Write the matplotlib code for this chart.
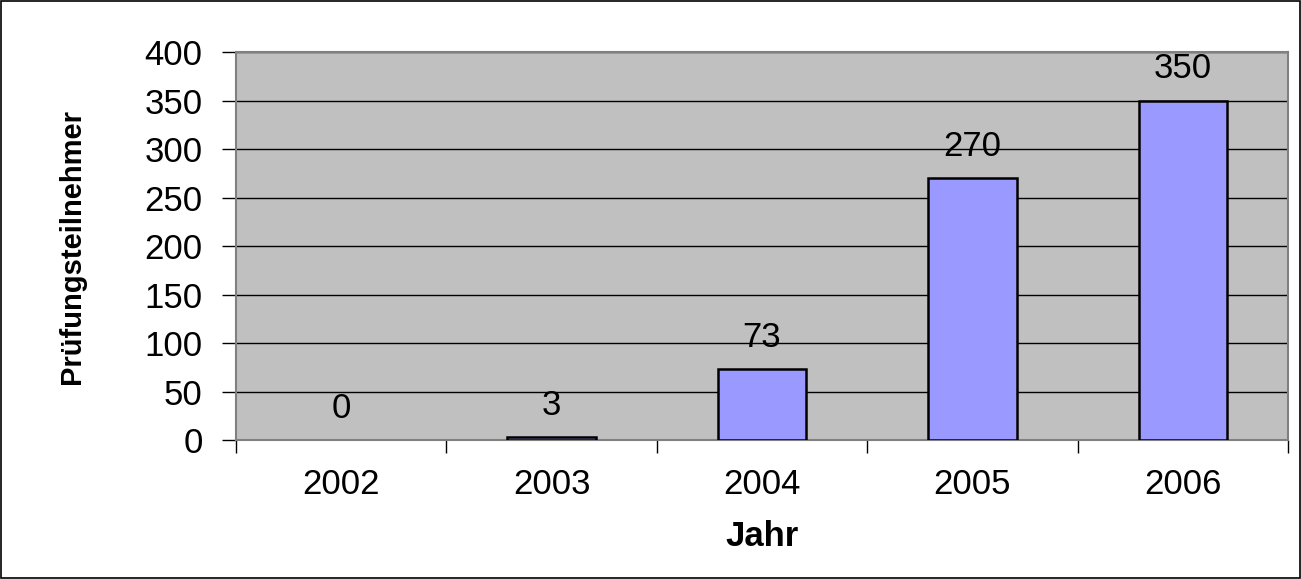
"""
Prüfungsteilnehmer pro Jahr - Balkendiagramm
"""

import numpy as np
import matplotlib.pyplot as plt
from matplotlib.patches import Rectangle

plt.rcParams['font.family'] = ['Liberation Sans', 'DejaVu Sans']

# ============================================================
# DATA
# ============================================================

years = ['2002', '2003', '2004', '2005', '2006']
participants = [0, 3, 73, 270, 350]
y_ticks = [0, 50, 100, 150, 200, 250, 300, 350, 400]

FS = 25  # text size (reference text is wide and flat)

# ============================================================
# PLOT
# ============================================================

fig = plt.figure(figsize=(13.01, 5.79), dpi=100)
ax = fig.add_axes([0.1814, 0.240, 0.8086, 0.670])
ax.set_facecolor('#C0C0C0')

x = np.arange(len(years))
edge_w = [0 if v == 0 else 1.8 for v in participants]
bars = ax.bar(x, participants, width=0.42, color='#9999FF',
              edgecolor='black', linewidth=edge_w, zorder=3)

# value labels above bars
for xi, v in zip(x, participants):
    ax.annotate(str(v), (xi, v), xytext=(0, 23), textcoords='offset points',
                ha='center', va='center', fontsize=FS, zorder=4)

ax.set_xlim(-0.5, len(years) - 0.5)
ax.set_ylim(0, 400)
ax.set_yticks(y_ticks)
ax.tick_params(axis='y', labelsize=FS, length=10, width=1, color='black', pad=14)

# category labels centered, ticks at category boundaries
ax.set_xticks(np.arange(-0.5, len(years)), minor=False)
ax.set_xticklabels([])
ax.set_xticks(x, minor=True)
ax.set_xticklabels(years, minor=True, fontsize=FS)
ax.tick_params(axis='x', which='major', length=9, width=1, color='black')
ax.tick_params(axis='x', which='minor', length=0, pad=20)

ax.yaxis.grid(True, color='black', linewidth=1)
ax.set_axisbelow(True)
for s in ax.spines.values():
    s.set_color('#808080')
    s.set_linewidth(1.5)

ax.set_xlabel('Jahr', fontsize=FS, fontweight='bold', labelpad=14)
ax.set_ylabel('Prüfungsteilnehmer', fontsize=21, fontweight='bold', labelpad=42)

# border around the whole figure
fig.patches.append(Rectangle((0.0008, 0.0015), 0.9984, 0.997, transform=fig.transFigure,
                             fill=False, edgecolor='black', linewidth=1.2))

plt.savefig('out.png', dpi=100, facecolor='white')
